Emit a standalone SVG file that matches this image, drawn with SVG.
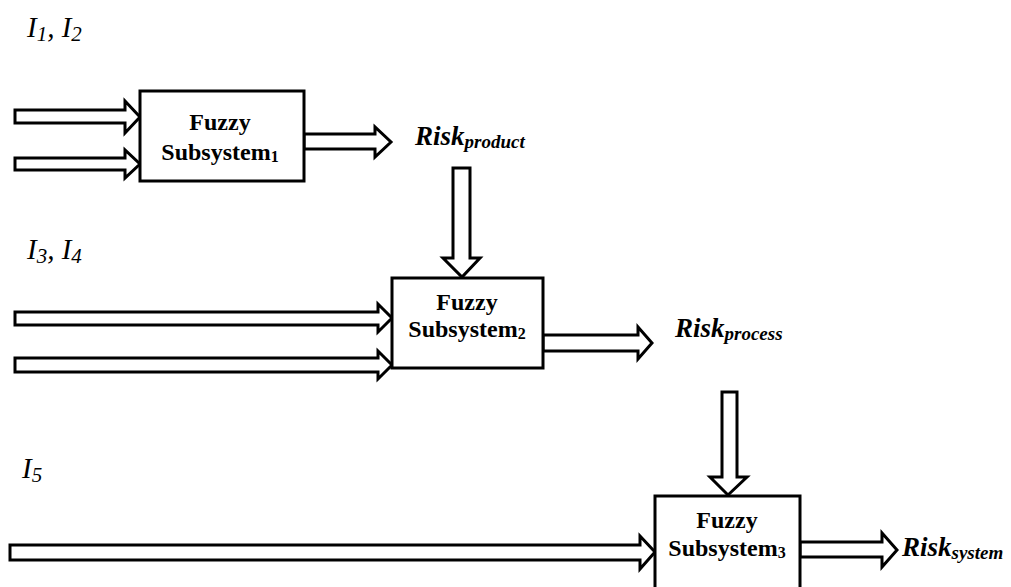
<svg xmlns="http://www.w3.org/2000/svg" width="1011" height="587" viewBox="0 0 1011 587">
  <style>
    .box { fill: #fff; stroke: #000; stroke-width: 3; }
    .arrow { fill: #fff; stroke: #000; stroke-width: 3; stroke-linejoin: miter; }
    .title { font-family: "Liberation Serif", "Times New Roman", serif; font-weight: bold; font-size: 24px; text-anchor: middle; fill: #000; }
    .in { font-family: "Liberation Serif", "Times New Roman", serif; font-style: italic; font-size: 29px; fill: #000; }
    .risk { font-family: "Liberation Serif", "Times New Roman", serif; font-style: italic; font-weight: bold; font-size: 27px; fill: #000; }
    .sub { font-size: 16px; }
    .in .sub { font-size: 21px; }
    .risk .sub { font-size: 19px; }
  </style>
  <rect width="1011" height="587" fill="#fff"/>

  <!-- input labels -->
  <g id="inputs">
    <text class="in" x="27" y="37">I<tspan class="sub" dy="4">1</tspan><tspan dy="-4">, I</tspan><tspan class="sub" dy="4">2</tspan></text>
    <text class="in" x="27" y="259">I<tspan class="sub" dy="4">3</tspan><tspan dy="-4">, I</tspan><tspan class="sub" dy="4">4</tspan></text>
    <text class="in" x="22" y="478">I<tspan class="sub" dy="4">5</tspan></text>
  </g>

  <!-- block arrows -->
  <g id="connectors">
    <path class="arrow" d="M15,110 L125,110 L125,101 L140,117 L125,133 L125,123 L15,123 Z"/>
    <path class="arrow" d="M15,158 L125,158 L125,150 L140,164 L125,178 L125,170 L15,170 Z"/>
    <path class="arrow" d="M304,134 L375,134 L375,127 L391,142 L375,157 L375,149 L304,149 Z"/>
    <path class="arrow" d="M453,168 L470,168 L470,258 L480,258 L462,277 L443,258 L453,258 Z"/>
    <path class="arrow" d="M15,312 L378,312 L378,304 L392,318 L378,332 L378,325 L15,325 Z"/>
    <path class="arrow" d="M15,358 L378,358 L378,351 L392,365 L378,379 L378,372 L15,372 Z"/>
    <path class="arrow" d="M543,335 L638,335 L638,327 L652,343 L638,359 L638,351 L543,351 Z"/>
    <path class="arrow" d="M722,392 L737,392 L737,477 L747,477 L728,495 L710,477 L722,477 Z"/>
    <path class="arrow" d="M10,545 L640,545 L640,536 L655,552 L640,569 L640,560 L10,560 Z"/>
    <path class="arrow" d="M800,542 L882,542 L882,533 L897,550 L882,567 L882,557 L800,557 Z"/>
  </g>

  <g id="subsystem1">
    <rect class="box" x="140" y="91" width="164" height="90"/>
    <text class="title" x="220" y="130">Fuzzy</text>
    <text class="title" x="220" y="160">Subsystem<tspan class="sub" dy="2">1</tspan></text>
  </g>

  <g id="subsystem2">
    <rect class="box" x="392" y="278" width="151" height="90"/>
    <text class="title" x="467" y="310">Fuzzy</text>
    <text class="title" x="467" y="337">Subsystem<tspan class="sub" dy="2">2</tspan></text>
  </g>

  <g id="subsystem3">
    <rect class="box" x="655" y="496" width="145" height="110"/>
    <text class="title" x="727" y="528">Fuzzy</text>
    <text class="title" x="727" y="556">Subsystem<tspan class="sub" dy="2">3</tspan></text>
  </g>

  <!-- outputs -->
  <g id="risk-product">
    <text class="risk" x="415" y="145">Risk<tspan class="sub" dy="3">product</tspan></text>
  </g>
  <g id="risk-process">
    <text class="risk" x="675" y="337">Risk<tspan class="sub" dy="3">process</tspan></text>
  </g>
  <g id="risk-system">
    <text class="risk" x="902" y="556">Risk<tspan class="sub" dy="3">system</tspan></text>
  </g>
</svg>
